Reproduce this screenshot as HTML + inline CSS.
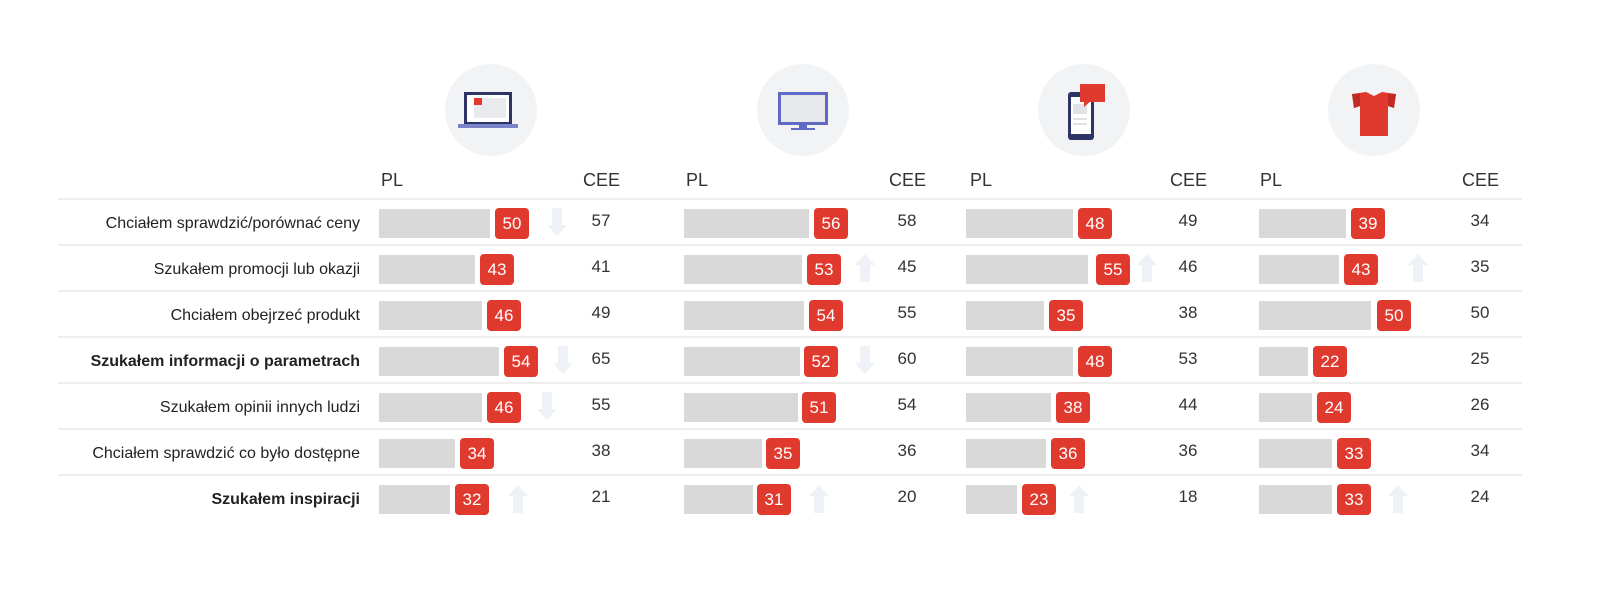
<!DOCTYPE html>
<html><head><meta charset="utf-8"><style>
body{margin:0;width:1600px;height:609px;background:#fff;position:relative;overflow:hidden;font-family:"Liberation Sans",sans-serif;color:#222}
.a{position:absolute}
.c{position:absolute;width:92px;height:92px;border-radius:50%;background:#f1f3f5}
.h{position:absolute;top:170px;font-size:18px;color:#333}
.sep{position:absolute;left:58px;width:1464px;height:2px;background:#eeeeee}
.lb{position:absolute;right:1240px;font-size:16px;line-height:20px;white-space:nowrap}
.b{position:absolute;height:29px;background:#d9d9d9}
.g{position:absolute;width:34px;height:31px;background:#e03a2f;border-radius:4px;color:#fff;font-size:17px;line-height:31px;text-align:center}
.v{position:absolute;width:30px;text-align:center;font-size:17px;color:#333;margin-top:1px}
.ar{position:absolute;width:20px;height:28px}
</style></head><body>
<div class="c" style="left:445px;top:64px"></div>
<div class="c" style="left:757px;top:64px"></div>
<div class="c" style="left:1038px;top:64px"></div>
<div class="c" style="left:1328px;top:64px"></div>
<svg class="a" style="left:0;top:0" width="1600" height="170">
<rect x="464" y="92" width="48" height="32" fill="#2d3466"/><rect x="467" y="95" width="42" height="27" fill="#fff"/><rect x="474" y="98" width="32" height="20" fill="#e8eaee"/><rect x="474" y="98" width="8" height="7" fill="#e03a2f"/><rect x="458" y="124" width="60" height="4" fill="#7b84c9"/>
<rect x="778" y="92" width="50" height="33" fill="#6069c4"/><rect x="781" y="95" width="44" height="27" fill="#e6e8ec"/><rect x="799" y="125" width="8" height="3" fill="#6069c4"/><rect x="791" y="128" width="24" height="2" fill="#6069c4"/>
<rect x="1068" y="92" width="26" height="48" rx="3" fill="#2d3466"/><rect x="1071" y="97" width="20" height="37" fill="#fff"/><rect x="1073" y="104" width="14" height="10" fill="#e0e2e6"/><rect x="1073" y="118" width="14" height="2" fill="#e0e2e6"/><rect x="1073" y="123" width="14" height="2" fill="#e0e2e6"/>
<rect x="1080" y="84" width="25" height="18" fill="#e03a2f"/><polygon points="1084,100 1092,100 1084,107" fill="#e03a2f"/>
<polygon points="1352,94 1366,92 1374,96 1382,92 1396,94 1394,108 1388,106 1388,136 1360,136 1360,106 1354,108" fill="#e03a2f"/><polygon points="1352,94 1360,94 1360,106 1354,108" fill="#c02a22"/><polygon points="1388,94 1396,94 1394,108 1388,106" fill="#c02a22"/>
</svg>
<div class="h" style="left:381px">PL</div><div class="h" style="left:583px">CEE</div>
<div class="h" style="left:686px">PL</div><div class="h" style="left:889px">CEE</div>
<div class="h" style="left:970px">PL</div><div class="h" style="left:1170px">CEE</div>
<div class="h" style="left:1260px">PL</div><div class="h" style="left:1462px">CEE</div>
<div class="sep" style="top:198px"></div><div class="sep" style="top:244px"></div><div class="sep" style="top:290px"></div><div class="sep" style="top:336px"></div><div class="sep" style="top:382px"></div><div class="sep" style="top:428px"></div><div class="sep" style="top:474px"></div>
<div class="lb" style="top:214px">Chciałem sprawdzić/porównać ceny</div>
<div class="lb" style="top:260px">Szukałem promocji lub okazji</div>
<div class="lb" style="top:306px">Chciałem obejrzeć produkt</div>
<div class="lb" style="top:352px;font-weight:bold">Szukałem informacji o parametrach</div>
<div class="lb" style="top:398px">Szukałem opinii innych ludzi</div>
<div class="lb" style="top:444px">Chciałem sprawdzić co było dostępne</div>
<div class="lb" style="top:490px;font-weight:bold">Szukałem inspiracji</div>

<!-- G1 -->
<div class="b" style="left:379px;top:209px;width:111px"></div><div class="g" style="left:495px;top:208px">50</div><div class="v" style="left:586px;top:210px">57</div>
<div class="b" style="left:379px;top:255px;width:96px"></div><div class="g" style="left:480px;top:254px">43</div><div class="v" style="left:586px;top:256px">41</div>
<div class="b" style="left:379px;top:301px;width:103px"></div><div class="g" style="left:487px;top:300px">46</div><div class="v" style="left:586px;top:302px">49</div>
<div class="b" style="left:379px;top:347px;width:120px"></div><div class="g" style="left:504px;top:346px">54</div><div class="v" style="left:586px;top:348px">65</div>
<div class="b" style="left:379px;top:393px;width:103px"></div><div class="g" style="left:487px;top:392px">46</div><div class="v" style="left:586px;top:394px">55</div>
<div class="b" style="left:379px;top:439px;width:76px"></div><div class="g" style="left:460px;top:438px">34</div><div class="v" style="left:586px;top:440px">38</div>
<div class="b" style="left:379px;top:485px;width:71px"></div><div class="g" style="left:455px;top:484px">32</div><div class="v" style="left:586px;top:486px">21</div>
<!-- G2 -->
<div class="b" style="left:684px;top:209px;width:125px"></div><div class="g" style="left:814px;top:208px">56</div><div class="v" style="left:892px;top:210px">58</div>
<div class="b" style="left:684px;top:255px;width:118px"></div><div class="g" style="left:807px;top:254px">53</div><div class="v" style="left:892px;top:256px">45</div>
<div class="b" style="left:684px;top:301px;width:120px"></div><div class="g" style="left:809px;top:300px">54</div><div class="v" style="left:892px;top:302px">55</div>
<div class="b" style="left:684px;top:347px;width:116px"></div><div class="g" style="left:804px;top:346px">52</div><div class="v" style="left:892px;top:348px">60</div>
<div class="b" style="left:684px;top:393px;width:114px"></div><div class="g" style="left:802px;top:392px">51</div><div class="v" style="left:892px;top:394px">54</div>
<div class="b" style="left:684px;top:439px;width:78px"></div><div class="g" style="left:766px;top:438px">35</div><div class="v" style="left:892px;top:440px">36</div>
<div class="b" style="left:684px;top:485px;width:69px"></div><div class="g" style="left:757px;top:484px">31</div><div class="v" style="left:892px;top:486px">20</div>
<!-- G3 -->
<div class="b" style="left:966px;top:209px;width:107px"></div><div class="g" style="left:1078px;top:208px">48</div><div class="v" style="left:1173px;top:210px">49</div>
<div class="b" style="left:966px;top:255px;width:122px"></div><div class="g" style="left:1096px;top:254px">55</div><div class="v" style="left:1173px;top:256px">46</div>
<div class="b" style="left:966px;top:301px;width:78px"></div><div class="g" style="left:1049px;top:300px">35</div><div class="v" style="left:1173px;top:302px">38</div>
<div class="b" style="left:966px;top:347px;width:107px"></div><div class="g" style="left:1078px;top:346px">48</div><div class="v" style="left:1173px;top:348px">53</div>
<div class="b" style="left:966px;top:393px;width:85px"></div><div class="g" style="left:1056px;top:392px">38</div><div class="v" style="left:1173px;top:394px">44</div>
<div class="b" style="left:966px;top:439px;width:80px"></div><div class="g" style="left:1051px;top:438px">36</div><div class="v" style="left:1173px;top:440px">36</div>
<div class="b" style="left:966px;top:485px;width:51px"></div><div class="g" style="left:1022px;top:484px">23</div><div class="v" style="left:1173px;top:486px">18</div>
<!-- G4 -->
<div class="b" style="left:1259px;top:209px;width:87px"></div><div class="g" style="left:1351px;top:208px">39</div><div class="v" style="left:1465px;top:210px">34</div>
<div class="b" style="left:1259px;top:255px;width:80px"></div><div class="g" style="left:1344px;top:254px">43</div><div class="v" style="left:1465px;top:256px">35</div>
<div class="b" style="left:1259px;top:301px;width:112px"></div><div class="g" style="left:1377px;top:300px">50</div><div class="v" style="left:1465px;top:302px">50</div>
<div class="b" style="left:1259px;top:347px;width:49px"></div><div class="g" style="left:1313px;top:346px">22</div><div class="v" style="left:1465px;top:348px">25</div>
<div class="b" style="left:1259px;top:393px;width:53px"></div><div class="g" style="left:1317px;top:392px">24</div><div class="v" style="left:1465px;top:394px">26</div>
<div class="b" style="left:1259px;top:439px;width:73px"></div><div class="g" style="left:1337px;top:438px">33</div><div class="v" style="left:1465px;top:440px">34</div>
<div class="b" style="left:1259px;top:485px;width:73px"></div><div class="g" style="left:1337px;top:484px">33</div><div class="v" style="left:1465px;top:486px">24</div>

<svg class="a" style="left:0;top:0" width="1600" height="609">
<defs>
<polygon id="up" points="0,11 10,0 20,11 15,11 15,28 5,28 5,11" fill="#eef2f6"/>
<polygon id="dn" points="5,0 15,0 15,17 20,17 10,28 0,17 5,17" fill="#eef2f6"/>
</defs>
<use href="#dn" x="547" y="208"/><use href="#dn" x="553" y="346"/><use href="#dn" x="537" y="392"/><use href="#up" x="508" y="485"/>
<use href="#up" x="855" y="254"/><use href="#dn" x="855" y="346"/><use href="#up" x="809" y="485"/>
<use href="#up" x="1137" y="254"/><use href="#up" x="1069" y="485"/>
<use href="#up" x="1408" y="254"/><use href="#up" x="1388" y="485"/>
</svg>
</body></html>
